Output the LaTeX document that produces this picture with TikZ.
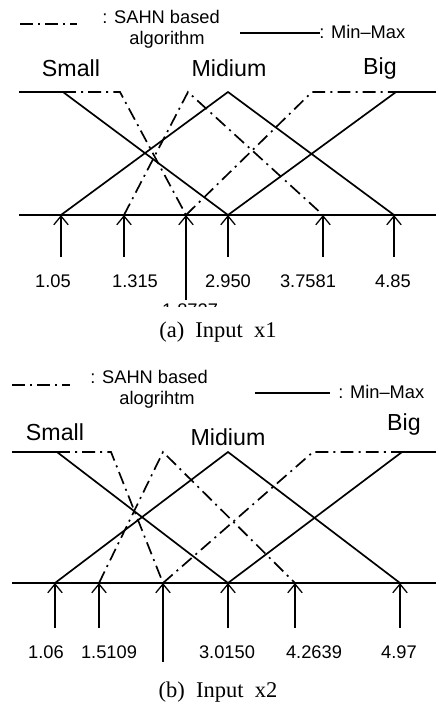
\documentclass[tikz,border=0pt]{standalone}
\usepackage{fontspec}
\setmainfont{Liberation Serif}
\setsansfont{Liberation Sans}
\usetikzlibrary{arrows.meta}

\tikzset{
  minmax/.style={line width=1.2pt},
  sahn/.style={line width=1.2pt, dash pattern=on 3.2mm off 1.3mm on 0.5mm off 1.3mm},
  axisline/.style={line width=1.2pt},
  inarrow/.style={line width=0.9pt, -{Straight Barb[length=2.2mm,width=3.6mm]}},
  lbl/.style={font=\sffamily\fontsize{13}{15}\selectfont, inner sep=0pt},
  setname/.style={font=\sffamily\fontsize{16.5}{18}\selectfont, inner sep=0pt},
  capt/.style={font=\rmfamily\fontsize{16}{18}\selectfont, inner sep=0pt},
}

\begin{document}
\begin{tikzpicture}[x=0.25mm, y=-0.25mm]
  \useasboundingbox (0,0) rectangle (436,718);

  % ---------- (a) Input x1 ----------
  % legend
  \draw[sahn] (20,24) -- (77,24);
  \node[lbl, anchor=west] (lgA1) at (102,17) {: SAHN based};
  \node[lbl] (lgA2) at (167,40) {algorithm};
  \draw[minmax] (240,33) -- (320,33);
  \node[lbl, anchor=west] (lgA3) at (319,32) {: Min--Max};

  % fuzzy set names
  \node[setname] (smallA) at (71,68) {Small};
  \node[setname] (midA) at (229,68) {Midium};
  \node[setname] (bigA) at (380,68) {Big};

  % Min-Max membership functions
  \draw[minmax] (19,92) -- (63,92) -- (228,215);
  \draw[minmax] (61,215) -- (228,92) -- (394,215);
  \draw[minmax] (228,215) -- (396,92) -- (436,92);

  % SAHN based membership functions
  \draw[sahn] (63,92) -- (120,92) -- (186,215);
  \draw[sahn] (124,215) -- (188,92) -- (323,215);
  \draw[sahn] (186,215) -- (312,92) -- (396,92);

  \draw[axisline] (19,215) -- (436,215);

  % input values
  \foreach \x/\lx/\lab [count=\i] in {61/53/1.05, 124/135/1.315, 228/228/2.950,
                                     323/308/3.7581, 394/393/4.85}{
    \coordinate (tA\i) at (\x,257);
    \coordinate (hA\i) at (\x,215);
    \draw[inarrow] (tA\i) -- (hA\i);
    \node[lbl] (vA\i) at (\lx,281) {\lab};
  }
  \coordinate (tA0) at (186,300);
  \coordinate (hA0) at (186,215);
  \draw[inarrow] (tA0) -- (hA0);
  \begin{scope}
    \clip (150,302) rectangle (250,306);
    \node[lbl] (vA0) at (190,310) {1.8727};
  \end{scope}

  \node[capt] (capA) at (218,332) {(a)\ \ Input\ \ x1};

  % ---------- (b) Input x2 ----------
  % legend
  \draw[sahn] (12,385) -- (70,385);
  \node[lbl, anchor=west] (lgB1) at (90,377) {: SAHN based};
  \node[lbl] (lgB2) at (157,400) {alogrihtm};
  \draw[minmax] (255,393) -- (330,393);
  \node[lbl, anchor=west] (lgB3) at (338,392) {: Min--Max};

  % fuzzy set names
  \node[setname] (smallB) at (55,432) {Small};
  \node[setname] (midB) at (228,437) {Midium};
  \node[setname] (bigB) at (404,424) {Big};

  % Min-Max membership functions
  \draw[minmax] (12,452) -- (57,452) -- (228,583);
  \draw[minmax] (55,583) -- (228,452) -- (400,583);
  \draw[minmax] (228,583) -- (402,452) -- (436,452);

  % SAHN based membership functions
  \draw[sahn] (57,452) -- (111,452) -- (163,583);
  \draw[sahn] (99,583) -- (163,452) -- (295,583);
  \draw[sahn] (163,583) -- (313,452) -- (402,452);

  \draw[axisline] (12,583) -- (436,583);

  % input values
  \foreach \x/\lx/\lab [count=\i] in {55/46/1.06, 99/109/1.5109, 228/227/3.0150,
                                     295/314/4.2639, 400/399/4.97}{
    \coordinate (tB\i) at (\x,628);
    \coordinate (hB\i) at (\x,583);
    \draw[inarrow] (tB\i) -- (hB\i);
    \node[lbl] (vB\i) at (\lx,652) {\lab};
  }
  \coordinate (tB0) at (163,662);
  \coordinate (hB0) at (163,583);
  \draw[inarrow] (tB0) -- (hB0);

  \node[capt] (capB) at (218,692) {(b)\ \ Input\ \ x2};
\end{tikzpicture}
\end{document}
